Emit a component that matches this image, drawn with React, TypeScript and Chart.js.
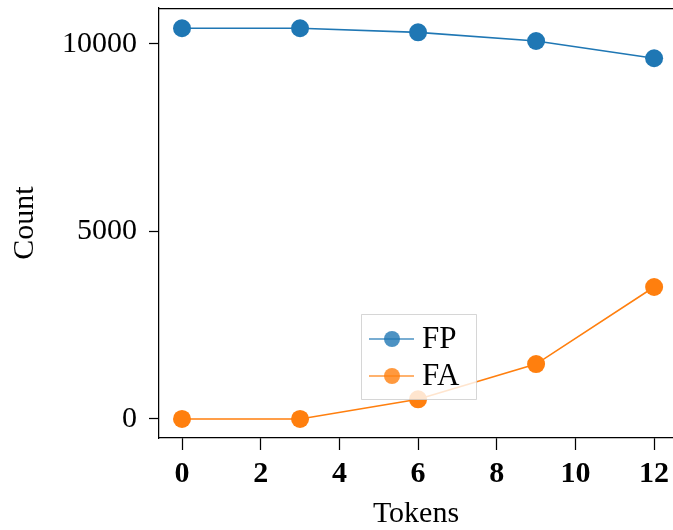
import React, { useEffect, useRef } from "react";
import { Chart, registerables } from "chart.js";

Chart.register(...registerables);

const tokens = [0, 3, 6, 9, 12];
const fpCounts = [10420, 10420, 10310, 10080, 9620];
const faCounts = [0, 0, 525, 1465, 3520];
const xTicks = [0, 2, 4, 6, 8, 10, 12];
const yTicks = [0, 5000, 10000];
const seriesLabels = ["FP", "FA"];
const seriesColors = ["#1f77b4", "#ff7f0e"];
const seriesLegendColors = ["rgba(31,119,180,0.8)", "rgba(255,127,14,0.8)"];
const xTitle = "Tokens";
const yTitle = "Count";

const FONT = "'Liberation Serif', 'Times New Roman', serif";

const frameAndLegend = {
  id: "frameAndLegend",
  afterDatasetsDraw(chart: any) {
    const { ctx, chartArea } = chart;
    ctx.save();
    // top spine
    ctx.strokeStyle = "#000";
    ctx.lineWidth = 1.25;
    ctx.beginPath();
    ctx.moveTo(chartArea.left, chartArea.top + 0.5);
    ctx.lineTo(chartArea.right, chartArea.top + 0.5);
    ctx.stroke();

    // legend
    const bx = chartArea.left + 202;
    const by = chartArea.top + 306;
    const bw = 115;
    const bh = 85;
    ctx.fillStyle = "rgba(255,255,255,0.8)";
    ctx.strokeStyle = "rgba(204,204,204,0.8)";
    ctx.lineWidth = 1;
    ctx.beginPath();
    ctx.rect(bx + 0.5, by + 0.5, bw, bh);
    ctx.fill();
    ctx.stroke();

    const ds = chart.data.datasets;
    ds.forEach((d: any, i: number) => {
      const cy = by + 25 + i * 37;
      ctx.strokeStyle = seriesLegendColors[i];
      ctx.lineWidth = 1.6;
      ctx.beginPath();
      ctx.moveTo(bx + 8, cy);
      ctx.lineTo(bx + 53, cy);
      ctx.stroke();
      ctx.fillStyle = seriesLegendColors[i];
      ctx.beginPath();
      ctx.arc(bx + 31, cy, 8, 0, Math.PI * 2);
      ctx.fill();
      ctx.fillStyle = "#000";
      ctx.font = `31px ${FONT}`;
      ctx.textBaseline = "middle";
      ctx.textAlign = "left";
      ctx.fillText(d.label, bx + 61, cy + 1);
    });
    ctx.restore();
  },
};

const zeroPad = (s: any) => {
  s.paddingTop = 0;
  s.paddingBottom = 0;
  s.paddingLeft = 0;
  s.paddingRight = 0;
};

export default function App() {
  const ref = useRef<HTMLCanvasElement | null>(null);

  useEffect(() => {
    document.body.style.margin = "0";
    const canvas = ref.current;
    if (!canvas) return;
    const makeData = (ys: number[]) => tokens.map((x, i) => ({ x, y: ys[i] }));
    const chart = new Chart(canvas, {
      type: "line",
      data: {
        datasets: [fpCounts, faCounts].map((ys, i) => ({
          label: seriesLabels[i],
          data: makeData(ys),
          borderColor: seriesColors[i],
          backgroundColor: seriesColors[i],
          borderWidth: 1.6,
          pointRadius: 9,
          pointHoverRadius: 9,
          pointBorderWidth: 0,
          pointBackgroundColor: seriesColors[i],
          tension: 0,
          fill: false,
          clip: false,
        })),
      },
      options: {
        responsive: false,
        animation: false,
        events: [],
        layout: { autoPadding: false, padding: { top: 8, left: 0, right: 0, bottom: 0 } },
        plugins: {
          legend: { display: false },
          tooltip: { enabled: false },
        },
        scales: {
          x: {
            type: "linear",
            min: -0.585,
            max: 12.48,
            afterBuildTicks: (s: any) => {
              s.ticks = xTicks.map((v) => ({ value: v }));
            },
            afterFit: (s: any) => {
              s.height = 92;
              zeroPad(s);
            },
            ticks: {
              color: "#000",
              padding: 6,
              font: { family: FONT, size: 30, weight: "bold" },
              maxRotation: 0,
              autoSkip: false,
              callback: (v: any) => String(v),
            },
            grid: {
              drawOnChartArea: false,
              drawTicks: true,
              tickLength: 12,
              tickColor: "#000",
              tickWidth: 1.25,
            },
            border: { display: true, color: "#000", width: 1.25 },
            title: {
              display: true,
              text: xTitle,
              color: "#000",
              font: { family: FONT, size: 30, lineHeight: 1 },
              padding: { top: 0, bottom: 1 },
            },
          },
          y: {
            type: "linear",
            min: -507,
            max: 10960,
            afterBuildTicks: (s: any) => {
              s.ticks = yTicks.map((v) => ({ value: v }));
            },
            afterFit: (s: any) => {
              s.width = 159;
              zeroPad(s);
            },
            ticks: {
              color: "#000",
              padding: 12,
              font: { family: FONT, size: 30 },
              callback: (v: any) => String(v),
            },
            grid: {
              drawOnChartArea: false,
              drawTicks: true,
              tickLength: 10,
              tickColor: "#000",
              tickWidth: 1.25,
            },
            border: { display: true, color: "#000", width: 1.25 },
            title: {
              display: true,
              text: yTitle,
              color: "#000",
              font: { family: FONT, size: 30, lineHeight: 1 },
              padding: { top: 10, bottom: 0 },
            },
          },
        },
      },
      plugins: [frameAndLegend],
    } as any);
    return () => chart.destroy();
  }, []);

  return (
    <div style={{ width: 673, height: 530 }}>
      <canvas ref={ref} width={673} height={530} style={{ display: "block", width: 673, height: 530 }} />
    </div>
  );
}
